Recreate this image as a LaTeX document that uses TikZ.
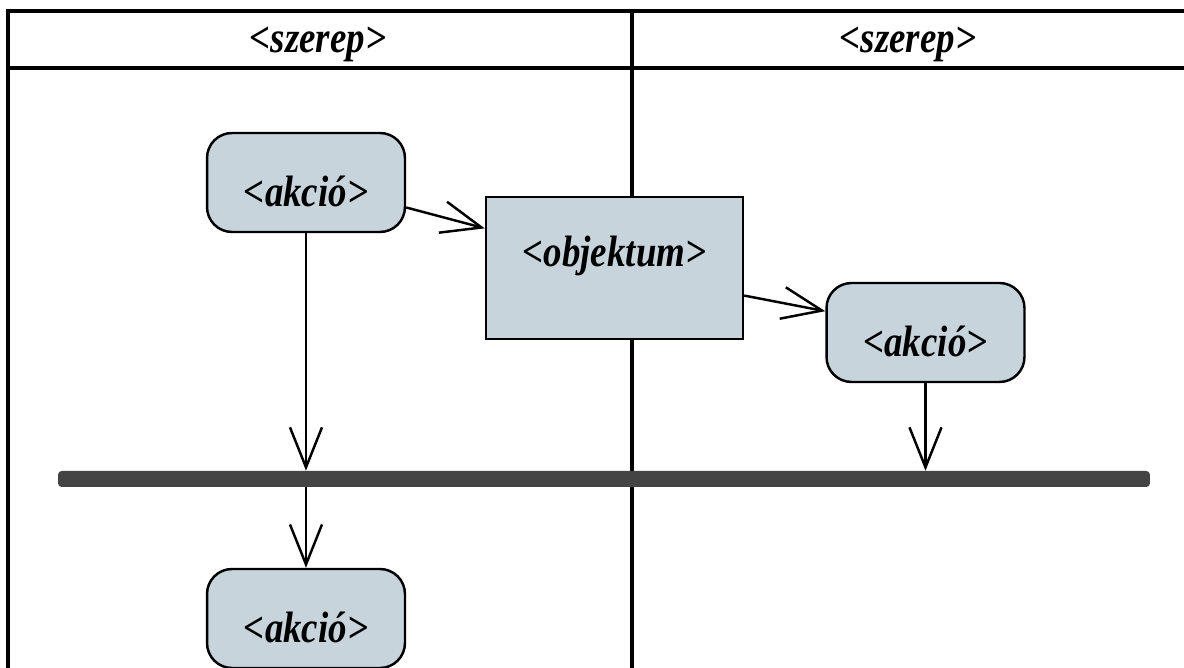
\documentclass[tikz,border=0pt]{standalone}
\usepackage{fontspec}
\setmainfont{Liberation Serif}[FakeStretch=0.84]
\usetikzlibrary{calc}
\usetikzlibrary{positioning}
\usetikzlibrary{arrows.meta}

\definecolor{actfill}{HTML}{C8D4DC}
\definecolor{bargray}{HTML}{444444}

\begin{document}
\begin{tikzpicture}[x=0.02cm, y=-0.02cm,
    lane/.style={draw=black, line width=2.2pt},
    label/.style={font=\fontsize{25}{30}\selectfont\bfseries\itshape},
    action/.style={rectangle, rounded corners=0.5cm, draw=black, line width=1.4pt, fill=actfill, minimum width=3.96cm, minimum height=1.98cm, text height=27pt, text depth=0pt, label},
    object/.style={rectangle, draw=black, line width=1.4pt, fill=actfill, minimum width=5.14cm, minimum height=2.84cm, text height=12pt, text depth=14pt, label},
    bar/.style={rectangle, rounded corners=2pt, fill=bargray, minimum width=21.84cm, minimum height=0.32cm},
    flow/.style={-{Straight Barb[length=0.8cm, width=0.64cm]}, line width=1.4pt}]
            \useasboundingbox (0, 0) rectangle (1184, 668);
            \clip (0, 0) rectangle (1184, 668);
            % swimlanes
            \draw[lane] (8, 11) rectangle (1220, 720);
            \draw[lane] (8, 68) -- (1220, 68);
            \draw[lane] (632, 11) -- (632, 720);
            \foreach \x[count=\i from 1] in {318, 908}
            {
                \node[label] (role\i) at (\x, 44) {<szerep>};
            }
            % nodes
            \node[action] (act1) at (306, 182.5) {<akció>};
            \node[object] (obj) at (614.5, 268) {<objektum>};
            \node[action] (act2) at (925.5, 332.5) {<akció>};
            \node[bar] (join) at (604, 479) {};
            \node[action] (act3) at (306, 618.5) {<akció>};
            % flows
            \draw[flow] (act1.-14) -- (obj.163);
            \draw[flow] (obj.-12) -- (act2.168);
            \draw[flow] (act1.south) -- (act1.south |- join.north);
            \draw[flow] (act2.south) -- (act2.south |- join.north);
            \draw[flow] (act3.north |- join.south) -- (act3.north);
        \end{tikzpicture}
\end{document}
